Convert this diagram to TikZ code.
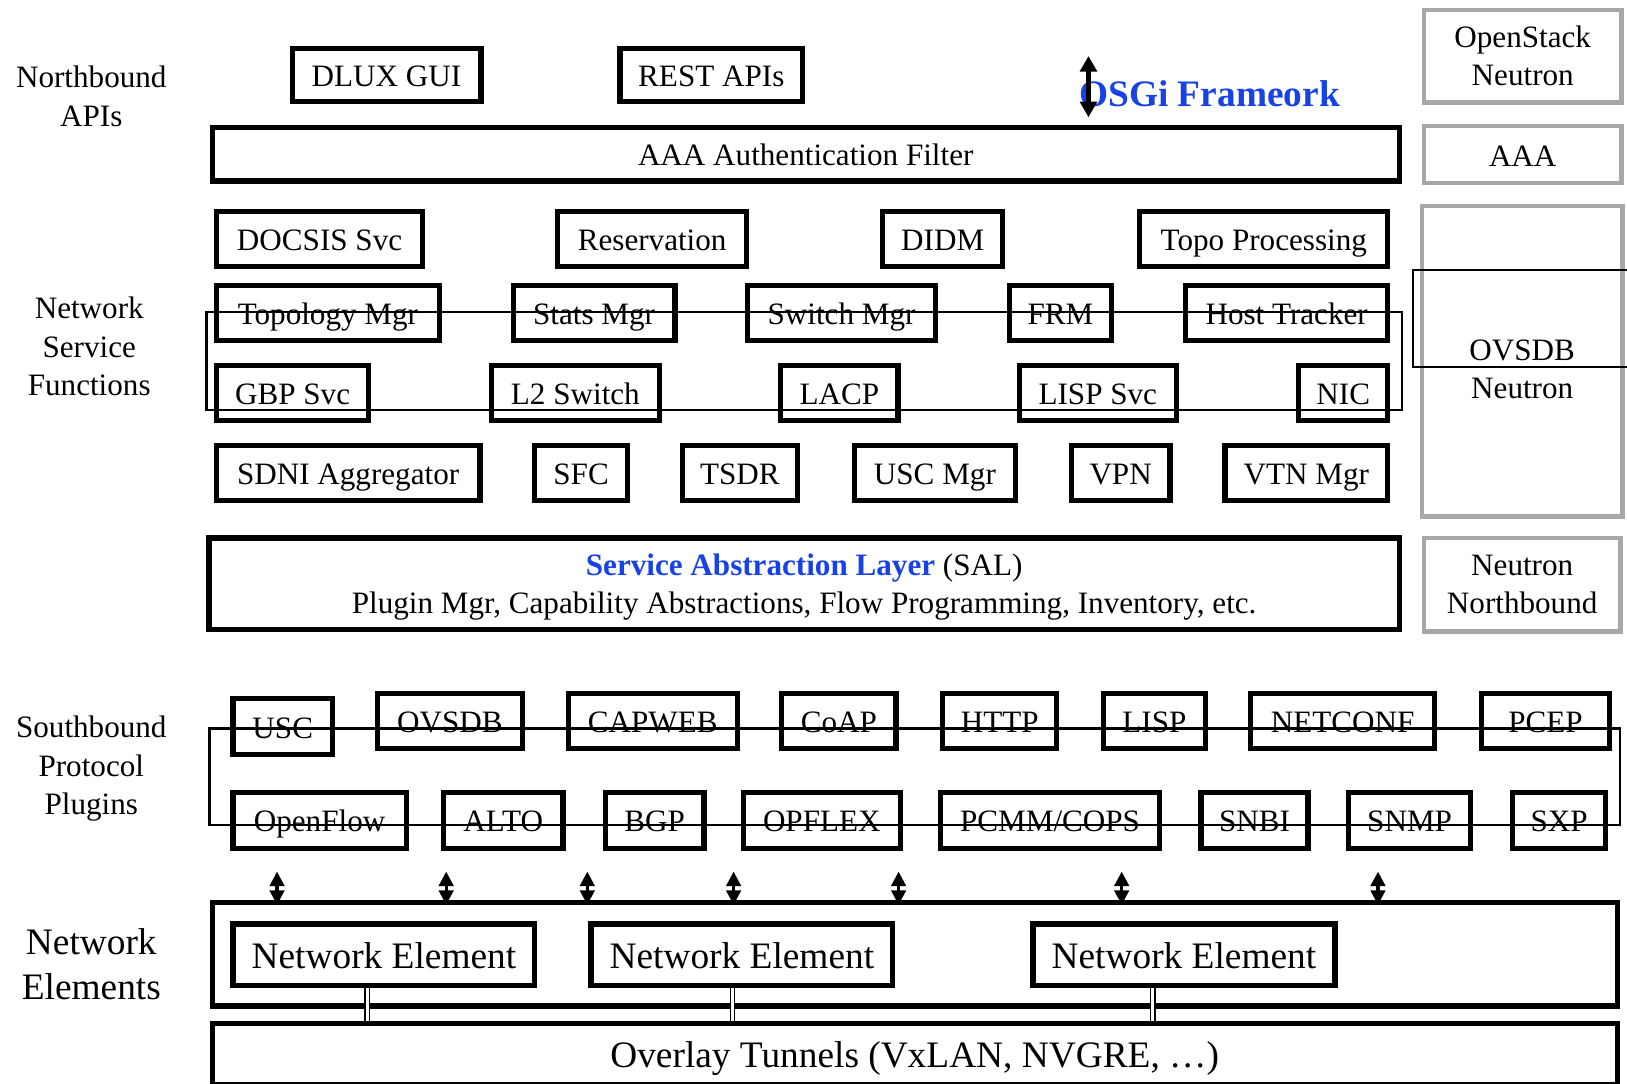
\documentclass[tikz,border=0pt]{standalone}
\usepackage{fontspec}
\setmainfont{Liberation Serif}
\usetikzlibrary{arrows.meta}
\definecolor{osgiblue}{RGB}{22,66,230}
\definecolor{boxgray}{RGB}{168,168,168}
\newcommand\bx[7][]{\node[box,#1,minimum width={#4-#3-5},minimum height={#6-#5-5}] (#2) at ({(#3+#4)/2},{(#5+#6)/2}) {#7};}
\begin{document}
\begin{tikzpicture}[x=1pt,y=-1pt,
  box/.style={draw=black,line width=5pt,inner sep=0pt,font=\fontsize{30}{37}\selectfont,text height=22pt,text depth=0pt},
  multi/.style={align=center,text height={},text depth={}},
  gbox/.style={draw=boxgray,line width=4.5pt},
  lbl/.style={font=\fontsize{30}{37}\selectfont,align=center,inner sep=0pt},
  big/.style={font=\fontsize{36}{43}\selectfont,text height=26pt,text depth=0pt},
  thinrect/.style={draw=black,line width=2.2pt},
  dbl/.style={draw=black,double=white,double distance=3.2pt,line width=1.2pt},
  biarrow/.style={line width=5pt,{Triangle[width=16pt,length=15pt]}-{Triangle[width=16pt,length=15pt]}},
  smarrow/.style={line width=3pt,{Triangle[width=14pt,length=14pt]}-{Triangle[width=14pt,length=14pt]}}]
\useasboundingbox (0,0) rectangle (1568,1044);

% left labels
\node[lbl] (lnb) at (88,93) {Northbound\\APIs};
\node[lbl] (lnsf) at (86,334) {Network\\Service\\Functions};
\node[lbl] (lsb) at (88,741) {Southbound\\Protocol\\Plugins};
\node[lbl,font=\fontsize{36}{43}\selectfont] (lne) at (88,929) {Network\\Elements};

% northbound
\bx{dlux}{279}{466}{44}{100}{DLUX GUI}
\bx{rest}{595}{776}{44}{100}{REST APIs}
\bx{aaaf}{202}{1351}{120}{177}{AAA Authentication Filter}
\node[anchor=base west,inner sep=0pt,font=\fontsize{36}{43}\selectfont\bfseries,text=osgiblue] (osgi) at (1040,103) {OSGi Frameork};
\coordinate (osgit) at (1049,54);
\coordinate (osgib) at (1049,113);
\draw[biarrow] (osgit) -- (osgib);

% right gray column
\bx[gbox,multi]{osn}{1370}{1565}{7}{101}{OpenStack\\Neutron}
\bx[gbox]{aaa}{1370}{1565}{119}{179}{AAA}
\bx[gbox]{ovn}{1368}{1566}{196}{500}{}
\node[lbl] (ovnt) at (1467,356) {OVSDB\\Neutron};
\bx[gbox,multi]{nnb}{1370}{1564}{516}{611}{Neutron\\Northbound}

% network service functions
\bx{docsis}{206}{410}{201}{259}{DOCSIS Svc}
\bx{resv}{535}{722}{201}{259}{Reservation}
\bx{didm}{848}{969}{201}{259}{DIDM}
\bx{topop}{1096}{1340}{201}{259}{Topo Processing}
\bx{topom}{206}{426}{273}{331}{Topology Mgr}
\bx{stats}{492}{653}{273}{331}{Stats Mgr}
\bx{switch}{718}{904}{273}{331}{Switch Mgr}
\bx{frm}{970}{1074}{273}{331}{FRM}
\bx{host}{1140}{1340}{273}{331}{Host Tracker}
\bx{gbp}{206}{358}{350}{408}{GBP Svc}
\bx{ltwo}{471}{638}{350}{408}{L2 Switch}
\bx{lacp}{750}{868}{350}{408}{LACP}
\bx{lisps}{980}{1136}{350}{408}{LISP Svc}
\bx{nic}{1249}{1340}{350}{408}{NIC}
\bx{sdni}{206}{465}{427}{485}{SDNI Aggregator}
\bx{sfc}{513}{607}{427}{485}{SFC}
\bx{tsdr}{655}{771}{427}{485}{TSDR}
\bx{uscm}{821}{981}{427}{485}{USC Mgr}
\bx{vpn}{1030}{1130}{427}{485}{VPN}
\bx{vtn}{1178}{1340}{427}{485}{VTN Mgr}

% SAL
\bx{sal}{199}{1351}{516}{609}{}
\node[lbl] (salt) at (775,566) {{\bfseries\color{osgiblue}Service Abstraction Layer} (SAL)\\Plugin Mgr, Capability Abstractions, Flow Programming, Inventory, etc.};

% southbound plugins
\bx{usc}{222}{323}{671}{730}{USC}
\bx{ovsdb}{361}{506}{666}{724}{OVSDB}
\bx{capweb}{545}{713}{666}{724}{CAPWEB}
\bx{coap}{751}{866}{666}{724}{CoAP}
\bx{http}{906}{1021}{666}{724}{HTTP}
\bx{lisp}{1061}{1164}{666}{724}{LISP}
\bx{netconf}{1203}{1385}{666}{724}{NETCONF}
\bx{pcep}{1425}{1554}{666}{724}{PCEP}
\bx{openflow}{222}{394}{761}{820}{OpenFlow}
\bx{alto}{425}{545}{761}{820}{ALTO}
\bx{bgp}{581}{681}{761}{820}{BGP}
\bx{opflex}{714}{870}{761}{820}{OPFLEX}
\bx{pcmm}{904}{1120}{761}{820}{PCMM/COPS}
\bx{snbi}{1155}{1263}{761}{820}{SNBI}
\bx{snmp}{1297}{1420}{761}{820}{SNMP}
\bx{sxp}{1455}{1550}{761}{820}{SXP}

% thin overlay rectangles
\draw[thinrect] (199,301) rectangle (1351,395);
\draw[thinrect] (1362,260) rectangle (1600,354);
\draw[thinrect] (202,702) rectangle (1561,795);

% network elements
\bx{nebox}{202}{1561}{867}{972}{}
\bx[big]{ne1}{222}{518}{888}{952}{Network Element}
\bx[big]{ne2}{567}{863}{888}{952}{Network Element}
\bx[big]{ne3}{993}{1289}{888}{952}{Network Element}
\bx[big]{ovl}{202}{1561}{984}{1048}{Overlay Tunnels (VxLAN, NVGRE, …)}

% double links
\coordinate (d1) at (354,0);
\coordinate (d2) at (706,0);
\coordinate (d3) at (1111,0);
\draw[dbl] (ne1.south -| d1) -- (ovl.north -| d1);
\draw[dbl] (ne2.south -| d2) -- (ovl.north -| d2);
\draw[dbl] (ne3.south -| d3) -- (ovl.north -| d3);

% small bidirectional arrows
\foreach \i/\x in {1/267,2/430,3/566,4/707,5/866,6/1081,7/1328}{
  \coordinate (at\i) at (\x,840);
  \coordinate (ab\i) at (\x,872);
  \draw[smarrow] (at\i) -- (ab\i);
}
\end{tikzpicture}
\end{document}
